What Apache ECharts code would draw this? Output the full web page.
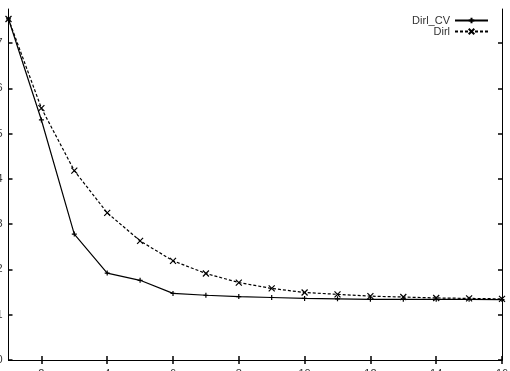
<!DOCTYPE html>
<html>
<head>
<meta charset="utf-8">
<script src="https://cdn.jsdelivr.net/npm/echarts@6/dist/echarts.min.js"></script>
<style>html,body{margin:0;padding:0;background:#fff}#c{width:510px;height:371px}</style>
</head>
<body>
<div id="c"></div>
<script>
const xValues = [1,2,3,4,5,6,7,8,9,10,11,12,13,14,15,16];
const dirlCV = [7.53,5.30,2.78,1.92,1.76,1.47,1.43,1.40,1.38,1.36,1.35,1.34,1.34,1.34,1.34,1.335];
const dirl   = [7.53,5.56,4.18,3.25,2.63,2.19,1.91,1.71,1.58,1.49,1.45,1.41,1.39,1.37,1.36,1.35];
const xTicks = [2,4,6,8,10,12,14,16];
const yTicks = [0,1,2,3,4,5,6,7];
const seriesNames = ['Dirl_CV','Dirl'];

const plusSym = 'path://M0,5L10,5M5,0L5,10';
const crossSym = 'path://M0,0L10,10M10,0L0,10';
const font = 'Liberation Sans, Arial, sans-serif';

const tickStyle = {show:true, inside:true, length:4, lineStyle:{color:'#000', width:1.5}};

function xa(pos, labels){
  return {type:'value', position:pos, min:1, max:16,
    axisLine:{show:true, lineStyle:{color:'#000', width:1}},
    axisTick:Object.assign({}, tickStyle, {customValues:xTicks}),
    axisLabel:{show:labels, customValues:xTicks, margin:8, fontSize:11, color:'#333', fontFamily:font},
    splitLine:{show:false}};
}
function ya(pos, labels){
  return {type:'value', position:pos, min:0, max:7.75,
    axisLine:{show:true, lineStyle:{color:'#000', width:1}},
    axisTick:Object.assign({}, tickStyle, {customValues:yTicks}),
    axisLabel:{show:labels, customValues:yTicks, margin:6, fontSize:11, color:'#333', fontFamily:font},
    splitLine:{show:false}};
}

const chart = echarts.init(document.getElementById('c'), null, {renderer:'canvas'});
chart.setOption({
  animation:false,
  backgroundColor:'#fff',
  grid:{left:8.5, right:8, top:9, bottom:11, containLabel:false, outerBoundsMode:'none'},
  xAxis:[xa('bottom', true), xa('top', false)],
  yAxis:[ya('left', true), ya('right', false)],
  legend:[
    {data:[seriesNames[0]], right:21, top:15, orient:'vertical', align:'right', itemWidth:33, itemHeight:7,
     padding:0, textStyle:{fontSize:11, color:'#333', fontFamily:font}},
    {data:[seriesNames[1]], right:21, top:26, orient:'vertical', align:'right', itemWidth:33, itemHeight:7,
     padding:0, textStyle:{fontSize:11, color:'#333', fontFamily:font}}
  ],
  series:[
    {name:seriesNames[0], type:'line', data:xValues.map((x,i)=>[x, dirlCV[i]]),
     symbol:plusSym, symbolSize:5, showSymbol:true,
     lineStyle:{color:'#000', width:1.2, type:'solid'},
     itemStyle:{color:'#000', borderColor:'#000', borderWidth:1.2}},
    {name:seriesNames[1], type:'line', data:xValues.map((x,i)=>[x, dirl[i]]),
     symbol:crossSym, symbolSize:6, showSymbol:true,
     lineStyle:{color:'#000', width:1.2, type:[3,2]},
     itemStyle:{color:'#000', borderColor:'#000', borderWidth:1.2}}
  ]
});
</script>
</body>
</html>
